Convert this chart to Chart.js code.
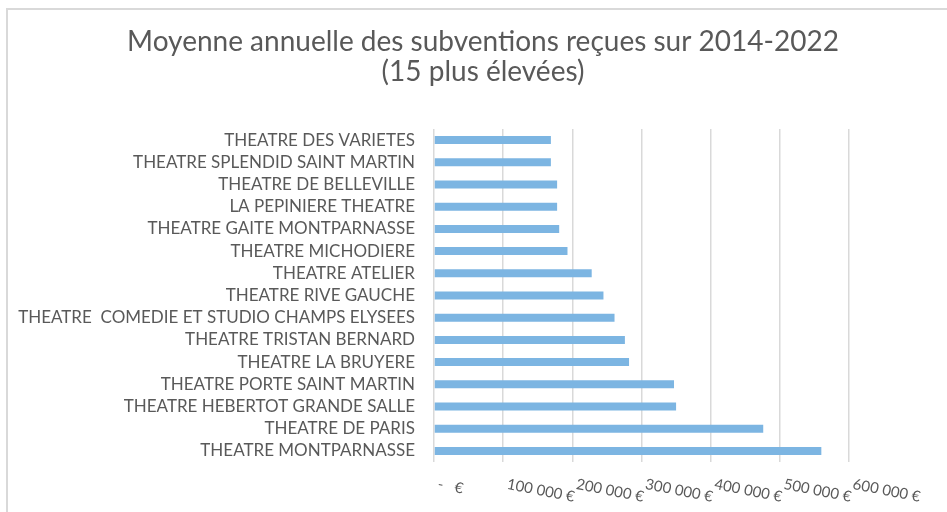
<!DOCTYPE html>
<html lang="fr">
  <head>
    <meta charset="UTF-8" />
    <title>Moyenne annuelle des subventions</title>
    <style>
      * {
        margin: 0;
        padding: 0;
      }
      body {
        background: #fff;
      }
      .chartBox {
        width: 947px;
        height: 512px;
      }
    </style>
  </head>
  <body>
    <div class="chartBox">
      <canvas id="myChart"></canvas>
    </div>

    <script src="https://cdn.jsdelivr.net/npm/chart.js"></script>
    <script>
      // data
      const theatres = [
        "THEATRE DES VARIETES",
        "THEATRE SPLENDID SAINT MARTIN",
        "THEATRE DE BELLEVILLE",
        "LA PEPINIERE THEATRE",
        "THEATRE GAITE MONTPARNASSE",
        "THEATRE MICHODIERE",
        "THEATRE ATELIER",
        "THEATRE RIVE GAUCHE",
        "THEATRE  COMEDIE ET STUDIO CHAMPS ELYSEES",
        "THEATRE TRISTAN BERNARD",
        "THEATRE LA BRUYERE",
        "THEATRE PORTE SAINT MARTIN",
        "THEATRE HEBERTOT GRANDE SALLE",
        "THEATRE DE PARIS",
        "THEATRE MONTPARNASSE"
      ];
      const subventions = [
        169000, 169000, 178000, 178000, 181000, 193000, 228000, 245000,
        261000, 276000, 282000, 347000, 350000, 476000, 560000
      ];
      const tickValues = [0, 100000, 200000, 300000, 400000, 500000, 600000];
      const tickLabels = [
        "-   €",
        "100 000 €",
        "200 000 €",
        "300 000 €",
        "400 000 €",
        "500 000 €",
        "600 000 €"
      ];
      const titleLines = [
        "Moyenne annuelle des subventions reçues sur 2014-2022",
        "(15 plus élevées)"
      ];

      const textColor = "#595959";
      const fontName = "Lato, 'Open Sans', sans-serif";

      // frame around the chart + title across the full width
      const frame = {
        id: "frame",
        beforeDraw: (chart) => {
          const { ctx } = chart;
          ctx.save();
          ctx.strokeStyle = "#d9d9d9";
          ctx.lineWidth = 2;
          ctx.strokeRect(7, 9, chart.width + 20, chart.height + 20);

          ctx.fillStyle = textColor;
          ctx.font = "28px " + fontName;
          ctx.textAlign = "center";
          ctx.textBaseline = "middle";
          titleLines.forEach((line, i) => {
            ctx.fillText(line, 483, 42 + i * 30);
          });
          ctx.restore();
        }
      };

      // slanted x labels, drawn from the tick going down to the right
      const slantedLabels = {
        id: "slantedLabels",
        afterDraw: (chart) => {
          const { ctx } = chart;
          const x = chart.scales.x;
          ctx.save();
          ctx.fillStyle = textColor;
          ctx.font = "15px " + fontName;
          ctx.textAlign = "left";
          ctx.textBaseline = "middle";
          tickValues.forEach((v, i) => {
            const px = x.getPixelForValue(v);
            ctx.save();
            ctx.translate(px + 4, 484);
            ctx.rotate((11 * Math.PI) / 180);
            ctx.fillText(tickLabels[i], 0, 0);
            ctx.restore();
          });
          ctx.restore();
        }
      };

      const data = {
        labels: theatres,
        datasets: [
          {
            data: subventions,
            backgroundColor: "#7cb5e2",
            borderWidth: 0,
            barPercentage: 0.45,
            categoryPercentage: 0.8
          }
        ]
      };

      const config = {
        type: "bar",
        data,
        options: {
          indexAxis: "y",
          responsive: true,
          maintainAspectRatio: false,
          animation: false,
          layout: {
            padding: { left: 0, right: 98, top: 129, bottom: 50 }
          },
          plugins: {
            legend: { display: false },
            tooltip: { enabled: false },
            title: { display: false }
          },
          scales: {
            x: {
              min: 0,
              max: 600000,
              afterBuildTicks: (scale) => {
                scale.ticks = tickValues.map((v) => ({ value: v }));
              },
              ticks: { display: false },
              grid: {
                color: "#d9d9d9",
                lineWidth: 1.5,
                drawTicks: false
              },
              border: { display: false }
            },
            y: {
              afterFit: (scale) => {
                scale.width = 434;
              },
              ticks: {
                color: textColor,
                font: { family: fontName, size: 17 },
                padding: 19,
                autoSkip: false
              },
              grid: { display: false, drawTicks: false },
              border: { display: false }
            }
          }
        },
        plugins: [frame, slantedLabels]
      };

      const ctx = document.getElementById("myChart");
      const myChart = new Chart(ctx, config);
    </script>
  </body>
</html>
